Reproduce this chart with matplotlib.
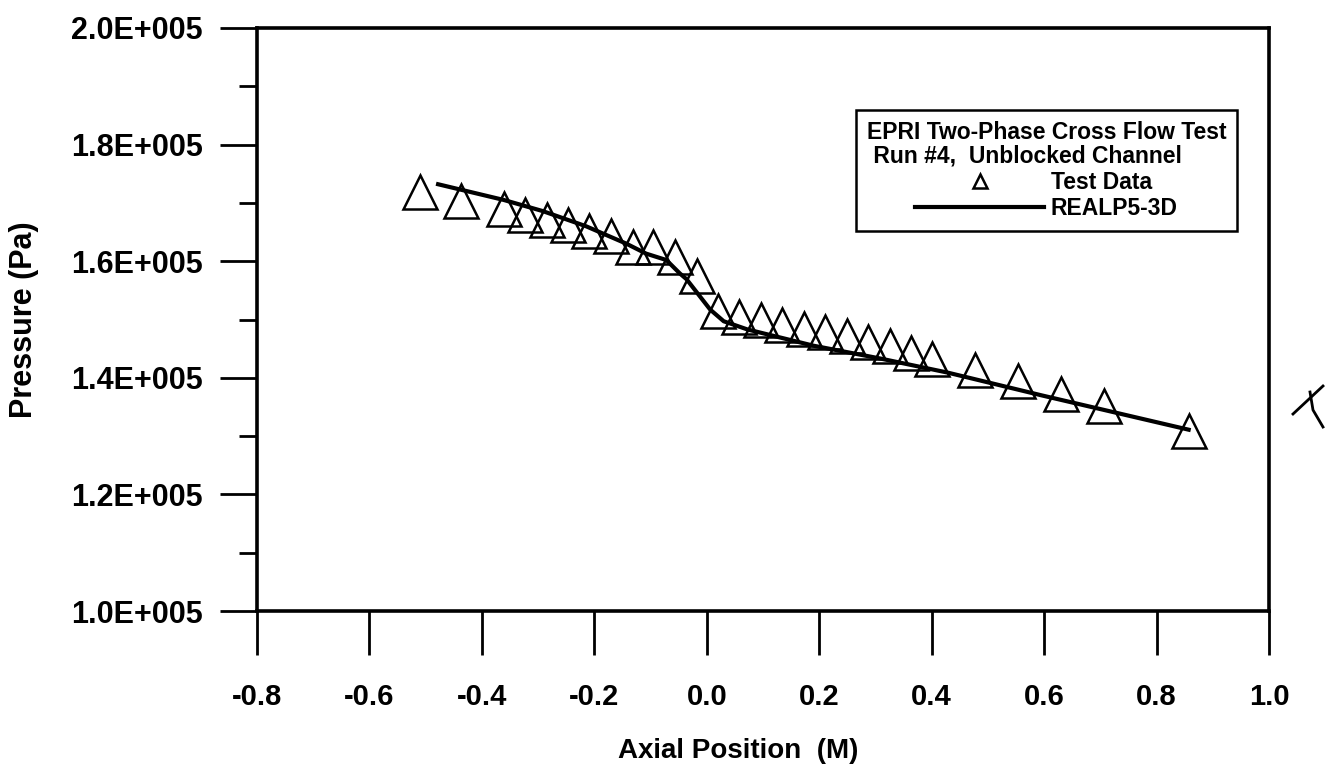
import matplotlib
matplotlib.use("Agg")
import matplotlib.pyplot as plt
import numpy as np
from matplotlib.lines import Line2D
from matplotlib.ticker import FuncFormatter, MultipleLocator

plt.rcParams['font.family'] = ['Liberation Sans', 'DejaVu Sans']
plt.rcParams['font.weight'] = 'bold'

# -----------------------
# DATA
# -----------------------

# test data, axial position (m) and pressure (Pa)
test_x = [-0.511, -0.437, -0.360, -0.323, -0.285, -0.247, -0.209, -0.170,
          -0.131, -0.095, -0.056, -0.018, 0.020, 0.058, 0.096, 0.134,
          0.172, 0.211, 0.250, 0.287, 0.325, 0.363, 0.401, 0.477,
          0.554, 0.630, 0.706, 0.857]
test_p = [1.719e5, 1.704e5, 1.689e5, 1.679e5, 1.670e5, 1.662e5, 1.651e5, 1.644e5,
          1.625e5, 1.625e5, 1.607e5, 1.575e5, 1.514e5, 1.505e5, 1.499e5, 1.490e5,
          1.484e5, 1.478e5, 1.471e5, 1.461e5, 1.454e5, 1.442e5, 1.433e5, 1.414e5,
          1.394e5, 1.372e5, 1.351e5, 1.309e5]

# REALP5-3D calculation
calc_x = [-0.478, -0.361, -0.292, -0.215, -0.143, -0.108, -0.072, -0.048,
          -0.036, 0.006, 0.030, 0.072, 0.190, 0.309, 0.428, 0.595, 0.857]
calc_p = [1.732e5, 1.705e5, 1.686e5, 1.660e5, 1.630e5, 1.613e5, 1.602e5, 1.579e5,
          1.569e5, 1.517e5, 1.497e5, 1.483e5, 1.455e5, 1.433e5, 1.409e5, 1.370e5, 1.311e5]

x_ticks = [-0.8, -0.6, -0.4, -0.2, 0.0, 0.2, 0.4, 0.6, 0.8, 1.0]
y_ticks = [1.0e5, 1.2e5, 1.4e5, 1.6e5, 1.8e5, 2.0e5]

legend_title = "EPRI Two-Phase Cross Flow Test\n Run #4,  Unblocked Channel"
label_test = "Test Data"
label_calc = "REALP5-3D"

# -----------------------
# PLOT
# -----------------------

fig = plt.figure(figsize=(13.36, 7.71), dpi=100)
ax = fig.add_axes([0.1924, 0.2075, 0.7575, 0.7562])

ax.plot(test_x, test_p, linestyle='none', marker='^', markersize=25,
        markerfacecolor='none', markeredgecolor='black', markeredgewidth=1.8,
        label=label_test)
ax.plot(calc_x, calc_p, color='black', linewidth=3.0, label=label_calc)

ax.set_xlim(-0.8, 1.0)
ax.set_ylim(1.0e5, 2.0e5)
ax.set_xticks(x_ticks)
ax.set_yticks(y_ticks)
ax.yaxis.set_minor_locator(MultipleLocator(0.1e5))
ax.xaxis.set_major_formatter(FuncFormatter(lambda v, pos: f"{v:.1f}"))
ax.yaxis.set_major_formatter(FuncFormatter(lambda v, pos: f"{v / 1e5:.1f}E+005"))

ax.tick_params(axis='x', which='major', direction='out', length=32, width=2,
               pad=20, labelsize=21)
ax.tick_params(axis='y', which='major', direction='out', length=27, width=2,
               pad=12, labelsize=22)
ax.tick_params(axis='y', which='minor', direction='out', length=13, width=2)
for lab in ax.get_xticklabels() + ax.get_yticklabels():
    lab.set_fontweight('bold')

for side in ['left', 'bottom', 'right', 'top']:
    ax.spines[side].set_linewidth(2.6)

ax.set_xlabel("Axial Position  (M)", fontsize=20, fontweight='bold')
ax.set_ylabel("Pressure (Pa)", fontsize=22, fontweight='bold')
ax.xaxis.set_label_coords(0.475, -0.218)
ax.yaxis.set_label_coords(-0.215, 0.5)

leg = ax.legend(title=legend_title, loc='upper right', bbox_to_anchor=(0.968, 0.859),
                fontsize=16.5, title_fontproperties={'size': 16.5, 'weight': 'bold'},
                handlelength=5.6, handletextpad=0.3, markerscale=0.4,
                labelspacing=0.15, borderpad=0.45, borderaxespad=0.0,
                fancybox=False, framealpha=1, edgecolor='black')
leg.get_frame().set_linewidth(1.8)
leg.get_title().set_linespacing(1.05)
for t in leg.get_texts():
    t.set_fontweight('bold')

# handwritten tick mark in the right margin of the scan
fig.add_artist(Line2D([1293 / 1336, 1323 / 1336], [1 - 414 / 771, 1 - 386 / 771],
                      color='black', linewidth=2, transform=fig.transFigure))
fig.add_artist(Line2D([1310 / 1336, 1313 / 1336, 1323 / 1336],
                      [1 - 392 / 771, 1 - 410 / 771, 1 - 427 / 771],
                      color='black', linewidth=2, transform=fig.transFigure))

fig.savefig("out.png", dpi=100)
